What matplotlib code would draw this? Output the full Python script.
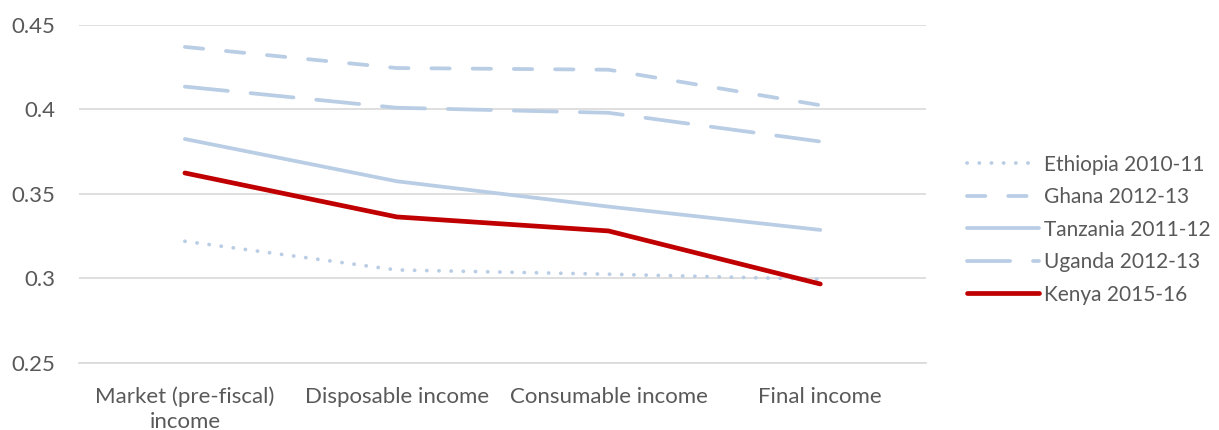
import matplotlib
matplotlib.use("Agg")
import matplotlib.pyplot as plt

plt.rcParams['font.family'] = ['Lato', 'DejaVu Sans']

categories = ["Market (pre-fiscal)\nincome", "Disposable income", "Consumable income", "Final income"]

ethiopia = [0.322, 0.305, 0.3025, 0.2995]
ghana = [0.437, 0.4245, 0.4235, 0.4025]
tanzania = [0.3825, 0.3575, 0.3425, 0.3287]
uganda = [0.4135, 0.401, 0.398, 0.381]
kenya = [0.3624, 0.3364, 0.3281, 0.2967]

yticks = [0.25, 0.3, 0.35, 0.4, 0.45]
ytick_labels = ["0.25", "0.3", "0.35", "0.4", "0.45"]

BLUE = "#b9cde5"
RED = "#c00000"
TEXT = "#595959"
GRID = "#d9d9d9"

fig = plt.figure(figsize=(12.19, 4.30), dpi=100)
ax = fig.add_axes([0.0648, 0.156, 0.695, 0.786])

x = range(len(categories))
lw = 2.7
ax.plot(x, ethiopia, color=BLUE, lw=lw, dashes=(0.05, 3.2), dash_capstyle="round",
        label="Ethiopia 2010-11")
ax.plot(x, ghana, color=BLUE, lw=lw, dashes=(4.9, 6.1), dash_capstyle="round",
        label="Ghana 2012-13")
ax.plot(x, tanzania, color=BLUE, lw=lw, solid_capstyle="round", label="Tanzania 2011-12")
ax.plot(x, uganda, color=BLUE, lw=lw, dashes=(11.5, 6.1), dash_capstyle="round",
        label="Uganda 2012-13")
ax.plot(x, kenya, color=RED, lw=3.4, solid_capstyle="round", label="Kenya 2015-16")

ax.set_xlim(-0.5, len(categories) - 0.5)
ax.set_ylim(0.25, 0.45)
ax.set_yticks(yticks)
ax.set_yticklabels(ytick_labels)
ax.set_xticks(list(x))
ax.set_xticklabels(categories, linespacing=1.3)
ax.grid(axis="y", color=GRID, lw=1.2)
ax.set_axisbelow(True)
for s in ["top", "right", "left"]:
    ax.spines[s].set_visible(False)
ax.spines["bottom"].set_color(GRID)
ax.spines["bottom"].set_linewidth(1.2)
ax.tick_params(axis="both", length=0, labelsize=16, colors=TEXT)
ax.tick_params(axis="y", pad=17)
ax.tick_params(axis="x", pad=17)

leg = fig.legend(loc="center left", bbox_to_anchor=(0.793, 0.466), frameon=False,
                 fontsize=15, handlelength=3.45, handletextpad=0.24, labelspacing=0.6,
                 borderpad=0, borderaxespad=0)
for t in leg.get_texts():
    t.set_color(TEXT)

fig.savefig("out.png", dpi=100)
